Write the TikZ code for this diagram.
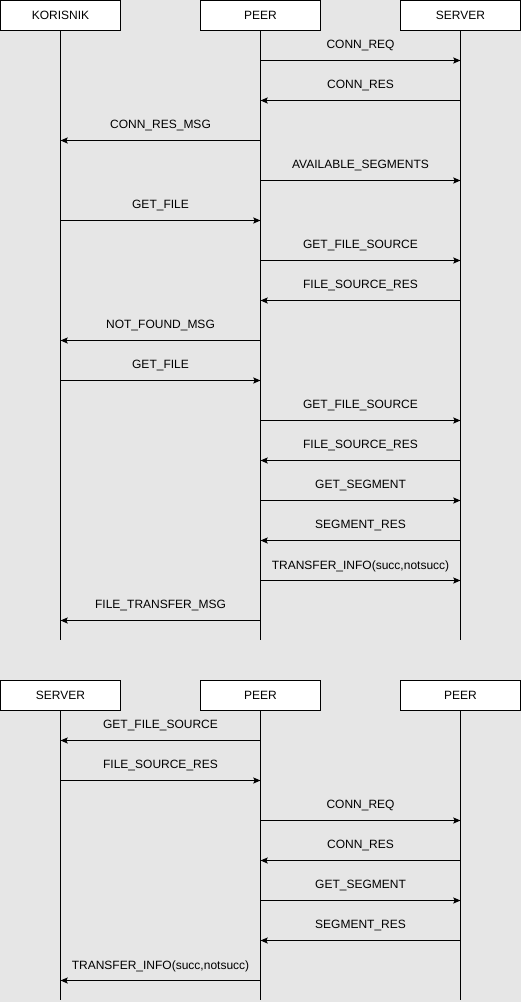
\documentclass[tikz,border=0pt]{standalone}
\usepackage{fontspec}
\setmainfont{Liberation Sans}
\usetikzlibrary{arrows.meta}
\definecolor{bg}{HTML}{E6E6E6}
\begin{document}
\begin{tikzpicture}[x=0.75pt,y=-0.75pt,
  actor/.style={draw=black,fill=white,line width=0.75pt,minimum width=90pt,minimum height=22.5pt,inner sep=0pt,font=\fontsize{9pt}{10pt}\selectfont},
  life/.style={line width=0.75pt},
  msg/.style={line width=0.75pt,-{Stealth[length=5.5pt,width=4.6pt,inset=1.2pt]}},
  lbl/.style={font=\fontsize{9pt}{10pt}\selectfont,inner sep=0pt,yshift=10.9pt}]
\fill[bg] (0,0) rectangle (521,1002);
\useasboundingbox (0,0) rectangle (521,1002);
% top diagram
\node[actor] (k) at (60.5,15.5) {KORISNIK};
\node[actor] (p) at (260.5,15.5) {PEER};
\node[actor] (s) at (460.5,15.5) {SERVER};
\coordinate (kend) at (60.5,640);
\coordinate (pend) at (260.5,640);
\coordinate (send) at (460.5,640);
\draw[life] (k.south) -- (kend);
\draw[life] (p.south) -- (pend);
\draw[life] (s.south) -- (send);
\foreach \a/\b/\y/\t in {p/s/60/CONN\_REQ, s/p/100/CONN\_RES, p/k/140/CONN\_RES\_MSG,
  p/s/180/AVAILABLE\_SEGMENTS, k/p/220/GET\_FILE, p/s/260/GET\_FILE\_SOURCE,
  s/p/300/FILE\_SOURCE\_RES, p/k/340/NOT\_FOUND\_MSG, k/p/380/GET\_FILE,
  p/s/420/GET\_FILE\_SOURCE, s/p/460/FILE\_SOURCE\_RES, p/s/500/GET\_SEGMENT,
  s/p/540/SEGMENT\_RES, p/s/580/{TRANSFER\_INFO(succ,notsucc)}, p/k/620/FILE\_TRANSFER\_MSG}
  \draw[msg] (\a.south |- 0,\y+0.5) -- node[lbl] {\t} (\b.south |- 0,\y+0.5);
% bottom diagram
\node[actor] (s2) at (60.5,695.5) {SERVER};
\node[actor] (p2) at (260.5,695.5) {PEER};
\node[actor] (q2) at (460.5,695.5) {PEER};
\coordinate (s2end) at (60.5,1000);
\coordinate (p2end) at (260.5,1000);
\coordinate (q2end) at (460.5,1000);
\draw[life] (s2.south) -- (s2end);
\draw[life] (p2.south) -- (p2end);
\draw[life] (q2.south) -- (q2end);
\foreach \a/\b/\y/\t in {p2/s2/740/GET\_FILE\_SOURCE, s2/p2/780/FILE\_SOURCE\_RES,
  p2/q2/820/CONN\_REQ, q2/p2/860/CONN\_RES, p2/q2/900/GET\_SEGMENT,
  q2/p2/940/SEGMENT\_RES, p2/s2/980/{TRANSFER\_INFO(succ,notsucc)}}
  \draw[msg] (\a.south |- 0,\y+0.5) -- node[lbl] {\t} (\b.south |- 0,\y+0.5);
\end{tikzpicture}
\end{document}
